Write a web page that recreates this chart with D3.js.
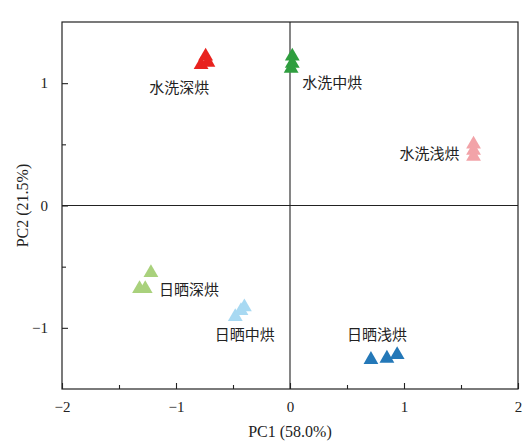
<!DOCTYPE html>
<html><head><meta charset="utf-8">
<script src="https://cdn.jsdelivr.net/npm/d3@7"></script>
<style>body{margin:0;background:#fff}</style>
</head><body>
<svg id="c" width="526" height="443"></svg>
<script>
const groups = ["水洗深烘","水洗中烘","水洗浅烘","日晒深烘","日晒中烘","日晒浅烘"];
const colors = ["#e8221e","#2f9e3f","#f2a3a8","#a9d17c","#a8d9f2","#2478b8"];
const pc1 = [
  [-0.74,-0.78,-0.72],
  [0.02,0.02,0.01],
  [1.61,1.61,1.61],
  [-1.22,-1.32,-1.27],
  [-0.40,-0.48,-0.43],
  [0.71,0.85,0.94]
];
const pc2 = [
  [1.22,1.15,1.17],
  [1.22,1.16,1.12],
  [0.50,0.45,0.40],
  [-0.55,-0.68,-0.68],
  [-0.83,-0.91,-0.86],
  [-1.26,-1.25,-1.22]
];
const labelX = [-1.234,0.108,0.96,-1.15,-0.66,0.50];
const labelY = [0.92,0.96,0.38,-0.73,-1.10,-1.10];
const xTicks = [-2,-1,0,1,2];
const yTicks = [-1,0,1];
const xMinor = [-1.5,-0.5,0.5,1.5];
const yMinor = [-0.5,0.5];

const svg = d3.select("#c");
const L=62,R=518,T=22,B=389;
const x = d3.scaleLinear().domain([-2,2]).range([L,R]);
const y = d3.scaleLinear().domain([-1.5,1.5]).range([B,T]);
const serif = "'Liberation Serif','Times New Roman',serif";

svg.append("rect").attr("x",L).attr("y",T).attr("width",R-L).attr("height",B-T)
  .attr("fill","none").attr("stroke","#222").attr("stroke-width",1.2);
svg.append("line").attr("x1",x(0)).attr("x2",x(0)).attr("y1",T).attr("y2",B).attr("stroke","#222").attr("stroke-width",1.1);
svg.append("line").attr("x1",L).attr("x2",R).attr("y1",y(0)).attr("y2",y(0)).attr("stroke","#222").attr("stroke-width",1.1);

const xa = svg.append("g").attr("transform",`translate(0,${B})`)
  .call(d3.axisBottom(x).tickValues(xTicks).tickSize(-6).tickPadding(12).tickFormat(d3.format("d")));
xa.selectAll(".tick text").text(d=>d<0?"\u2212"+Math.abs(d):d);
svg.append("g").attr("transform",`translate(0,${B})`)
  .call(d3.axisBottom(x).tickValues(xMinor).tickSize(-4).tickFormat(""));
const ya = svg.append("g").attr("transform",`translate(${L},0)`)
  .call(d3.axisLeft(y).tickValues(yTicks).tickSize(-6).tickPadding(14).tickFormat(d3.format("d")));
ya.selectAll(".tick text").text(d=>d<0?"\u2212"+Math.abs(d):d);
svg.append("g").attr("transform",`translate(${L},0)`)
  .call(d3.axisLeft(y).tickValues(yMinor).tickSize(-4).tickFormat(""));
svg.selectAll(".domain").remove();
svg.selectAll(".tick line").attr("stroke","#222").attr("stroke-width",1.1);
svg.selectAll(".tick text").attr("font-family",serif).attr("font-size",15).attr("fill","#222");

svg.append("text").attr("x",x(0)).attr("y",437).attr("text-anchor","middle")
  .attr("font-family",serif).attr("font-size",16).attr("fill","#222").text("PC1 (58.0%)");
svg.append("text").attr("transform",`translate(28,${y(0)}) rotate(-90)`).attr("text-anchor","middle")
  .attr("font-family",serif).attr("font-size",16).attr("fill","#222").text("PC2 (21.5%)");

const sym = d3.symbol().type(d3.symbolTriangle).size(95);
groups.forEach((g,i)=>{
  pc1[i].forEach((v,j)=>{
    svg.append("path").attr("d",sym)
      .attr("transform",`translate(${x(v)},${y(pc2[i][j])})`)
      .attr("fill",colors[i]);
  });
  svg.append("text").attr("x",x(labelX[i])).attr("y",y(labelY[i]))
    .attr("font-family","'Noto Sans CJK SC',sans-serif").attr("font-size",15).attr("fill","#222")
    .text(g);
});
</script>
</body></html>
